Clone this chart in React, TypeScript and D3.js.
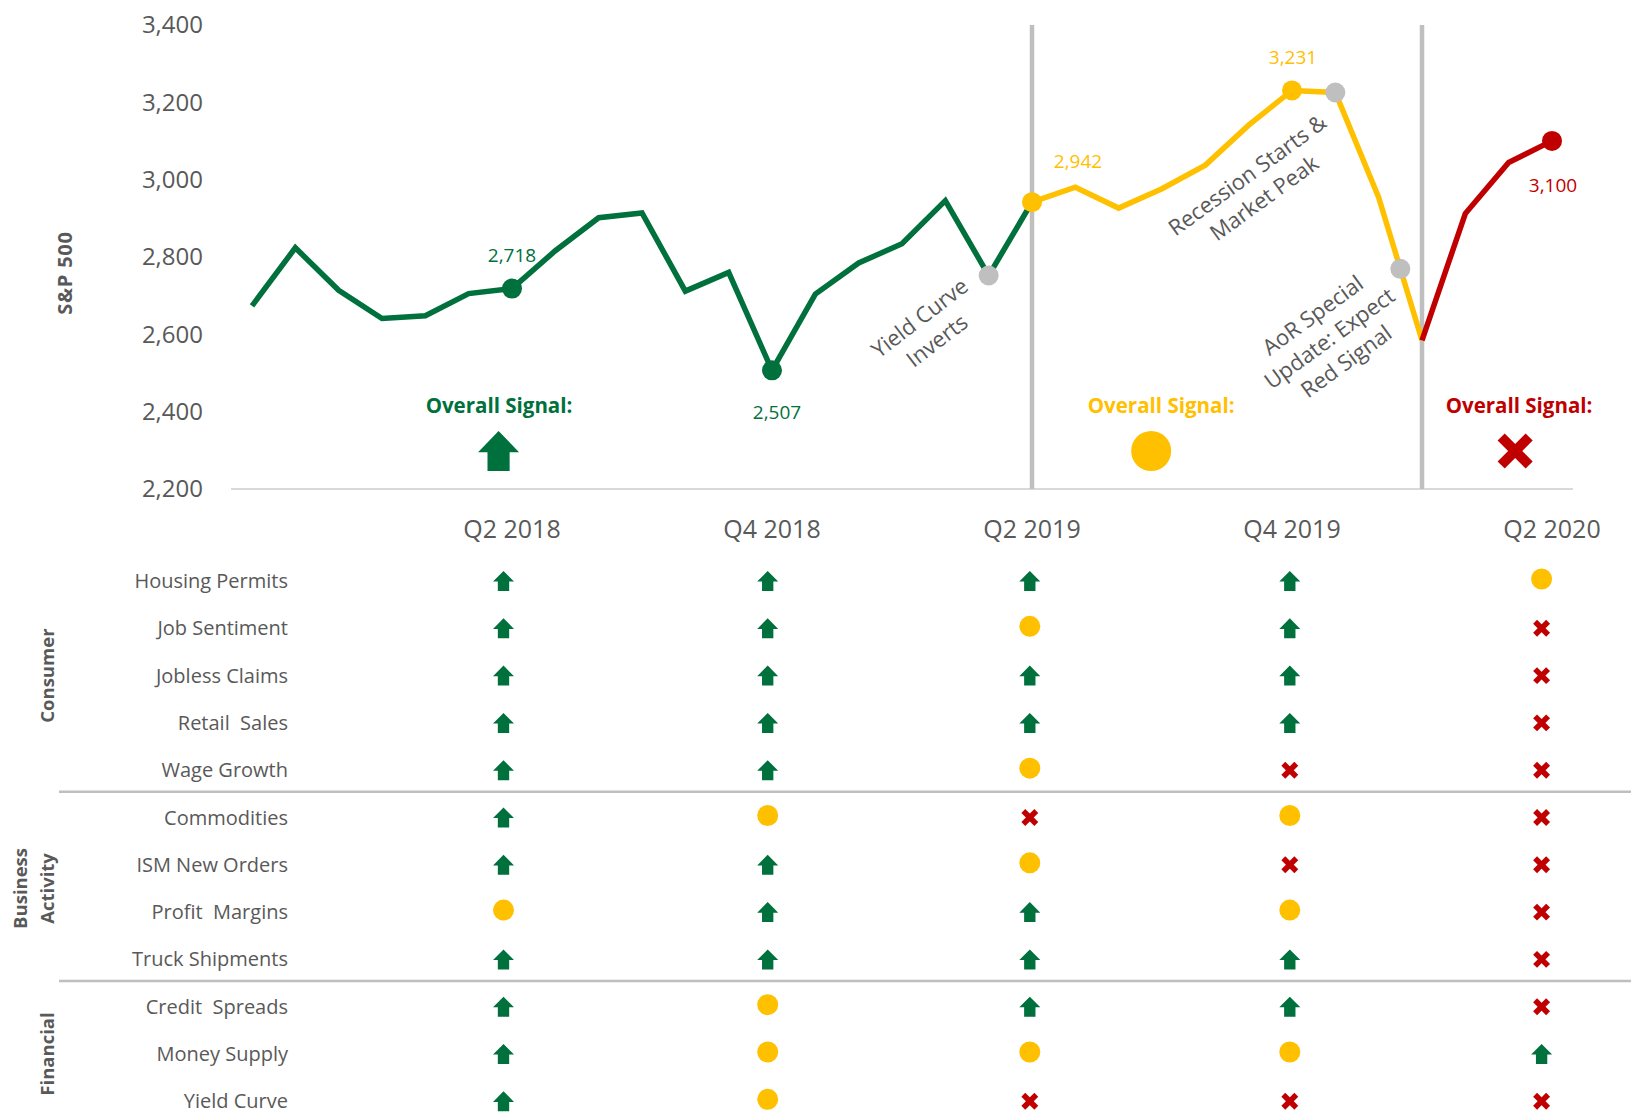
import React from "react";
import * as d3 from "d3";

// ---------------- DATA ----------------
const months = [
  "Dec 2017", "Jan 2018", "Feb 2018", "Mar 2018", "Apr 2018", "May 2018", "Jun 2018",
  "Jul 2018", "Aug 2018", "Sep 2018", "Oct 2018", "Nov 2018", "Dec 2018",
  "Jan 2019", "Feb 2019", "Mar 2019", "Apr 2019", "May 2019", "Jun 2019",
  "Jul 2019", "Aug 2019", "Sep 2019", "Oct 2019", "Nov 2019", "Dec 2019",
  "Jan 2020", "Feb 2020", "Mar 2020", "Apr 2020", "May 2020", "Jun 2020",
];
const sp500 = [
  2673.61, 2823.81, 2713.83, 2640.87, 2648.05, 2705.27, 2718.37,
  2816.29, 2901.52, 2913.98, 2711.74, 2760.17, 2506.85,
  2704.1, 2784.49, 2834.4, 2945.83, 2752.06, 2941.76,
  2980.38, 2926.46, 2976.74, 3037.56, 3140.98, 3230.78,
  3225.52, 2954.22, 2584.59, 2912.43, 3044.31, 3100.29,
];
const yTicks = [2200, 2400, 2600, 2800, 3000, 3200, 3400];
const quarterLabels = ["Q2 2018", "Q4 2018", "Q2 2019", "Q4 2019", "Q2 2020"];
const quarterMonthIdx = [6, 12, 18, 24, 30];
// line colour regimes: [start index, end index, signal]
const regimeStart = [0, 18, 27];
const regimeEnd = [18, 27, 30];
const regimeSignal = ["G", "Y", "R"];
const regimeBreakIdx = [18, 27];
const labeledIdx = [6, 12, 18, 24, 30];
const labeledSignal = ["G", "G", "Y", "Y", "R"];
const eventMonth = [17, 25, 26.5];
const eventText = [
  ["Yield Curve", "Inverts"],
  ["Recession Starts &", "Market Peak"],
  ["AoR Special", "Update: Expect", "Red Signal"],
];
const overallSignals = ["G", "Y", "R"];
const categoryNames = [["Consumer"], ["Business", "Activity"], ["Financial"]];
const categoryRowCount = [5, 4, 3];
const indicators = [
  "Housing Permits", "Job Sentiment", "Jobless Claims", "Retail  Sales", "Wage Growth",
  "Commodities", "ISM New Orders", "Profit  Margins", "Truck Shipments",
  "Credit  Spreads", "Money Supply", "Yield Curve",
];
const signals = [
  ["G", "G", "G", "G", "Y"],
  ["G", "G", "Y", "G", "R"],
  ["G", "G", "G", "G", "R"],
  ["G", "G", "G", "G", "R"],
  ["G", "G", "Y", "R", "R"],
  ["G", "Y", "R", "Y", "R"],
  ["G", "G", "Y", "R", "R"],
  ["Y", "G", "G", "Y", "R"],
  ["G", "G", "G", "G", "R"],
  ["G", "Y", "G", "G", "R"],
  ["G", "Y", "Y", "Y", "G"],
  ["G", "Y", "R", "R", "R"],
];

// ---------------- STYLE / LAYOUT ----------------
const W = 1631;
const H = 1113;
const FONT = "'Open Sans', 'Noto Sans', sans-serif";
const GREEN = "#00703c";
const YELLOW = "#ffc000";
const RED = "#c00000";
const GREY = "#bfbfbf";
const TEXT = "#595959";
const COLOR: Record<string, string> = { G: GREEN, Y: YELLOW, R: RED };

const x = d3.scaleLinear().domain([0, 30]).range([252, 1552]);
const y = d3.scaleLinear().domain([2200, 3400]).range([489, 25]);

const labelOffsets: Record<number, [number, number]> = {
  6: [0, -33],
  12: [5, 42],
  18: [46, -41],
  24: [1, -33],
  30: [1, 44],
};
const eventLayout = [
  { dx: -69, dy: 42.5, angle: -37.5 },
  { dx: -88, dy: 82.5, angle: -36 },
  { dx: -87.6, dy: 46.5, angle: -36 },
];
const overallLabelMonth = [5.7, 20.98, 29.24];
const overallSymbolMonth = [5.69, 20.75, 29.15];
const iconShift = [-8.5, -4.3, -2.2, -2.2, -10.4];
const row0 = 581;
const rowStep = 47.3;
const LINE_W = 5.5;

function valueAt(m: number) {
  const i0 = Math.floor(m);
  const i1 = Math.min(i0 + 1, sp500.length - 1);
  const t = m - i0;
  return sp500[i0] * (1 - t) + sp500[i1] * t;
}

function Icon({ type, cx, cy, big }: { type: string; cx: number; cy: number; big?: boolean }) {
  if (type === "G") {
    const w = big ? 41 : 21;
    const h = big ? 40 : 20;
    const top = -h / 2;
    const hb = top + h * 0.53;
    const sw = w * 0.27;
    const bot = h / 2;
    const d = `M0,${top}L${w / 2},${hb}L${sw},${hb}L${sw},${bot}L${-sw},${bot}L${-sw},${hb}L${-w / 2},${hb}Z`;
    return <path d={d} transform={`translate(${cx},${cy})`} fill={GREEN} />;
  }
  if (type === "Y") {
    return <circle cx={cx} cy={cy - (big ? 0 : 2)} r={big ? 20 : 10.5} fill={YELLOW} />;
  }
  const a = big ? 14 : 6.5;
  const t = big ? 10 : 5.5;
  return (
    <g transform={`translate(${cx},${cy})`} stroke={RED} strokeWidth={t} strokeLinecap="butt">
      <line x1={-a} y1={-a} x2={a} y2={a} />
      <line x1={-a} y1={a} x2={a} y2={-a} />
    </g>
  );
}

export default function App() {
  const line = d3
    .line<number>()
    .x((i) => x(i))
    .y((i) => y(sp500[i]));

  let rowCursor = 0;
  const catBlocks = categoryNames.map((name, ci) => {
    const start = rowCursor;
    rowCursor += categoryRowCount[ci];
    const center = row0 + rowStep * (start + (categoryRowCount[ci] - 1) / 2);
    return { name, center, start, end: rowCursor };
  });

  return (
    <div style={{ position: "absolute", left: 0, top: 0 }}>
      <svg width={W} height={H} viewBox={`0 0 ${W} ${H}`} style={{ display: "block", background: "#fff" }} fontFamily={FONT}>
        {/* y axis ticks */}
        {yTicks.map((t) => (
          <text key={t} x={203} y={y(t)} dy="0.35em" textAnchor="end" fontSize={24} fill={TEXT}>
            {d3.format(",")(t)}
          </text>
        ))}
        <text transform={`translate(65,273) rotate(-90)`} textAnchor="middle" dy="0.35em" fontSize={20} fontWeight={700} fill={TEXT} letterSpacing={0.8}>
          S&amp;P 500
        </text>

        {/* baseline */}
        <line x1={231} x2={1573} y1={y(2200)} y2={y(2200)} stroke="#d9d9d9" strokeWidth={2} />

        {/* regime separators */}
        {regimeBreakIdx.map((i) => (
          <line key={i} x1={x(i)} x2={x(i)} y1={y(3400)} y2={y(2200)} stroke={GREY} strokeWidth={4.5} />
        ))}

        {/* line segments */}
        {regimeStart.map((s, k) => (
          <path
            key={k}
            d={line(d3.range(s, regimeEnd[k] + 1)) || ""}
            fill="none"
            stroke={COLOR[regimeSignal[k]]}
            strokeWidth={LINE_W}
            strokeLinejoin="miter"
          />
        ))}

        {/* labeled points */}
        {labeledIdx.map((i, k) => {
          const col = COLOR[labeledSignal[k]];
          const [ox, oy] = labelOffsets[i];
          return (
            <g key={i}>
              <circle cx={x(i)} cy={y(sp500[i])} r={10} fill={col} />
              <text x={x(i) + ox} y={y(sp500[i]) + oy} dy="0.35em" textAnchor="middle" fontSize={19} fill={col}>
                {d3.format(",")(Math.round(sp500[i]))}
              </text>
            </g>
          );
        })}

        {/* events */}
        {eventMonth.map((m, k) => {
          const cx = x(m);
          const cy = y(valueAt(m));
          const L = eventLayout[k];
          return (
            <g key={k}>
              <circle cx={cx} cy={cy} r={10} fill={GREY} />
              <g transform={`translate(${cx + L.dx},${cy + L.dy}) rotate(${L.angle})`}>
                {eventText[k].map((t, j) => (
                  <text key={j} x={0} y={j * 28.5} dy="0.35em" textAnchor="middle" fontSize={22} fill={TEXT}>
                    {t}
                  </text>
                ))}
              </g>
            </g>
          );
        })}

        {/* overall signals */}
        {overallSignals.map((s, k) => (
          <g key={k}>
            <text x={x(overallLabelMonth[k])} y={413} textAnchor="middle" fontSize={20.5} fontWeight={700} fill={COLOR[s]}>
              Overall Signal:
            </text>
            <Icon type={s} cx={x(overallSymbolMonth[k])} cy={451} big />
          </g>
        ))}

        {/* quarter labels */}
        {quarterLabels.map((q, k) => (
          <text key={q} x={x(quarterMonthIdx[k])} y={538} textAnchor="middle" fontSize={25} fill={TEXT}>
            {q}
          </text>
        ))}

        {/* table */}
        {indicators.map((name, r) => (
          <g key={name}>
            <text x={288} y={row0 + r * rowStep} dy="0.35em" textAnchor="end" fontSize={20} fill={TEXT} style={{ whiteSpace: "pre" }}>
              {name}
            </text>
            {signals[r].map((s, c) => (
              <Icon key={c} type={s} cx={x(quarterMonthIdx[c]) + iconShift[c]} cy={row0 + r * rowStep} />
            ))}
          </g>
        ))}

        {/* category separators & labels */}
        {catBlocks.map((b, k) => (
          <g key={k}>
            {k > 0 && (
              <line x1={59} x2={W} y1={row0 + rowStep * (b.start - 0.5) - 2} y2={row0 + rowStep * (b.start - 0.5) - 2} stroke={GREY} strokeWidth={2.5} />
            )}
            {b.name.map((n, j) => (
              <text
                key={j}
                transform={`translate(${47.5 - (b.name.length - 1 - j) * 26.5},${b.center}) rotate(-90)`}
                textAnchor="middle"
                dy="0.35em"
                fontSize={18.5}
                fontWeight={700}
                fill={TEXT}
              >
                {n}
              </text>
            ))}
          </g>
        ))}
      </svg>
    </div>
  );
}
